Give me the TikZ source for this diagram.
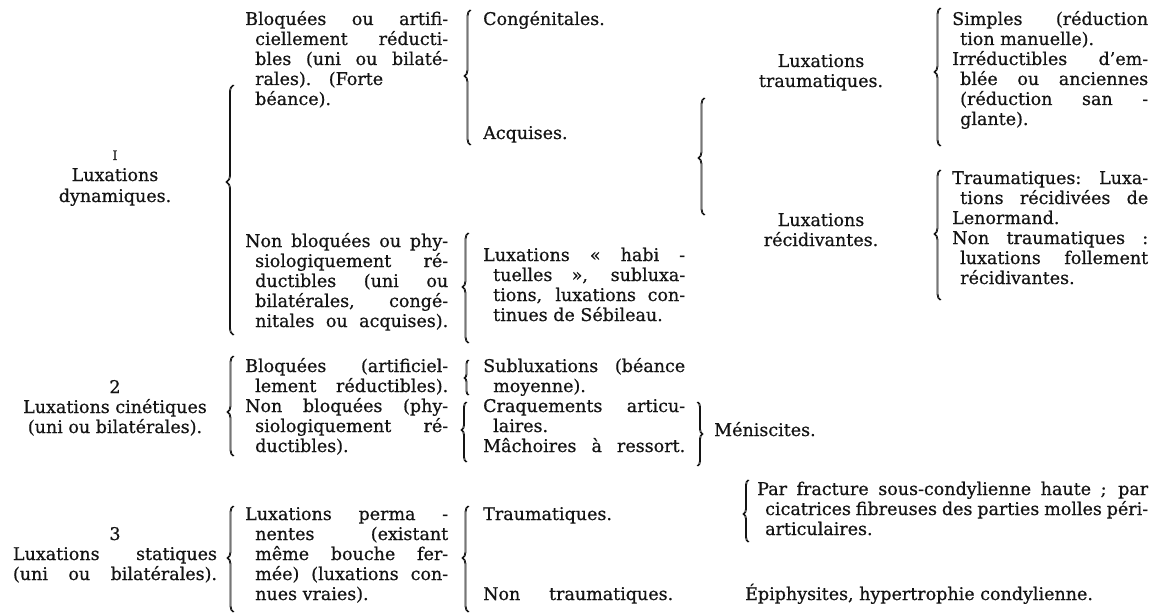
\documentclass[tikz,border=0pt]{standalone}
\usepackage{fontspec}
\setmainfont{DejaVu Serif}[FakeBold=0.6]
\usetikzlibrary{decorations.pathreplacing}
\definecolor{ink}{RGB}{20,20,20}
\newlength\bind
\newcommand\Jf[1]{\makebox[\linewidth][s]{#1}}
\newcommand\Ji[1]{\hspace*{\bind}\makebox[\dimexpr\linewidth-\bind\relax][s]{#1}}
\newcommand\Jl[1]{\hspace*{\bind}#1}
\newcommand\Blk[3][10pt]{\parbox[t]{#2}{\setlength\bind{#1}#3}}
\newcommand\Ctr[2]{\parbox[t]{#1}{\centering #2}}
\tikzset{
  txt/.style={inner sep=0pt, anchor=base west, font=\fontsize{17.5}{20}\selectfont, text=ink},
  ctxt/.style={txt, anchor=base},
  brc/.style={draw=ink, line width=0.85pt, decorate}
}
% left brace "{" : name, x, top, bottom, tip, amplitude
\newcommand\LB[6]{%
  \coordinate (#1-t) at (#2,#3);
  \coordinate (#1-b) at (#2,#4);
  \pgfmathsetmacro\asp{(#4-#5)/(#4-#3)}%
  \draw[brc, decoration={brace, amplitude=#6pt, aspect=\asp}] (#1-b) -- (#1-t);
  \draw[brc, decoration={brace, amplitude=#6pt, aspect=\asp}] ([xshift=1pt]#1-b) -- ([xshift=1pt]#1-t);
}
% right brace "}"
\newcommand\RB[6]{%
  \coordinate (#1-t) at (#2,#3);
  \coordinate (#1-b) at (#2,#4);
  \pgfmathsetmacro\asp{(#5-#3)/(#4-#3)}%
  \draw[brc, decoration={brace, amplitude=#6pt, aspect=\asp}] (#1-t) -- (#1-b);
  \draw[brc, decoration={brace, amplitude=#6pt, aspect=\asp}] ([xshift=-1pt]#1-t) -- ([xshift=-1pt]#1-b);
}
\begin{document}
\begin{tikzpicture}[x=1pt,y=-1pt]
\useasboundingbox (0,0) rectangle (1164,615);
\fill[white] (0,0) rectangle (1164,615);

% ---------------- group 1
\node[ctxt] (g1) at (115,160) {\Ctr{220pt}{{\fontsize{13}{20}\selectfont I}\\[1pt]Luxations\\[1pt]dynamiques.}};
\node[txt] (g1a) at (245,25) {\Blk{203pt}{\Jf{Bloquées ou artifi-}\\\Ji{ciellement réducti-}\\\Ji{bles (uni ou bilaté-}\\\Jl{rales).\hspace{1em}(Forte}\\\Jl{béance).}}};
\node[txt] (g1a1) at (483,25) {Congénitales.};
\node[txt] (g1a2) at (483,139) {Acquises.};
\node[ctxt] (g1t) at (821,67) {\Ctr{160pt}{Luxations\\traumatiques.}};
\node[ctxt] (g1r) at (821,226) {\Ctr{160pt}{Luxations\\récidivantes.}};
\node[txt] (g1t1) at (952,25) {\Blk[8pt]{196pt}{\Jf{Simples (réduction}\\\Jl{tion manuelle).}\\\Jf{Irréductibles d'em-}\\\Ji{blée ou anciennes}\\\Ji{(réduction san -}\\\Jl{glante).}}};
\node[txt] (g1r1) at (952,184) {\Blk[8pt]{196pt}{\Jf{Traumatiques: Luxa-}\\\Ji{tions récidivées de}\\Lenormand.\\\Jf{Non traumatiques :}\\\Ji{luxations follement}\\\Jl{récidivantes.}}};
\node[txt] (g1b) at (245,247) {\Blk{203pt}{\Jf{Non bloquées ou phy-}\\\Ji{siologiquement ré-}\\\Ji{ductibles (uni ou}\\\Ji{bilatérales, congé-}\\\Ji{nitales ou acquises).}}};
\node[txt] (g1b1) at (483,261) {\Blk{202pt}{\Jf{Luxations « habi -}\\\Ji{tuelles », subluxa-}\\\Ji{tions, luxations con-}\\\Jl{tinues de Sébileau.}}};

% ---------------- group 2
\node[ctxt] (g2) at (115,393) {\Ctr{220pt}{2\\Luxations cinétiques\\(uni ou bilatérales).}};
\node[txt] (g2a) at (245,372) {\Blk{203pt}{\Jf{Bloquées (artificiel-}\\\Ji{lement réductibles).}\\\Jf{Non bloquées (phy-}\\\Ji{siologiquement ré-}\\\Jl{ductibles).}}};
\node[txt] (g2b) at (483,372) {\Blk{202pt}{\Jf{Subluxations (béance}\\\Jl{moyenne).}\\\Jf{Craquements articu-}\\\Jl{laires.}\\\Jf{Mâchoires à ressort.}}};
\node[txt] (g2c) at (714,436) {Méniscites.};

% ---------------- group 3
\node[ctxt] (g3) at (115,540) {\parbox[t]{204pt}{\centering 3\\\makebox[204pt][s]{Luxations statiques}\\\makebox[204pt][s]{(uni ou bilatérales).}}};
\node[txt] (g3a) at (245,520) {\Blk{203pt}{\Jf{Luxations perma -}\\\Ji{nentes (existant}\\\Ji{même bouche fer-}\\\Ji{mée) (luxations con-}\\\Jl{nues vraies).}}};
\node[txt] (g3b) at (483,520) {Traumatiques.};
\node[txt] (g3c) at (483,600) {\makebox[190pt][s]{Non traumatiques.}};
\node[txt] (g3d) at (757,495) {\Blk[8pt]{391pt}{\Jf{Par fracture sous-condylienne haute ; par}\\\Ji{cicatrices fibreuses des parties molles péri-}\\\Jl{articulaires.}}};
\node[txt] (g3e) at (745,600) {Épiphysites, hypertrophie condylienne.};

% ---------------- braces
\LB{b1}{233}{85}{335}{182}{7}
\LB{b2}{470}{10}{145}{76}{6}
\LB{b3}{468}{233}{343}{287}{6}
\LB{b4}{704}{98}{215}{158}{6}
\LB{b5}{940}{8}{146}{72}{6}
\LB{b6}{940}{170}{300}{234}{6}
\LB{b7}{233}{356}{456}{412}{6}
\LB{b8}{468}{360}{395}{378}{4}
\LB{b9}{466}{402}{462}{430}{5}
\RB{b10}{698}{402}{466}{434}{5}
\LB{b11}{233}{506}{612}{558}{6}
\LB{b12}{468}{506}{612}{558}{6}
\LB{b13}{748}{480}{542}{514}{5}
\end{tikzpicture}
\end{document}
